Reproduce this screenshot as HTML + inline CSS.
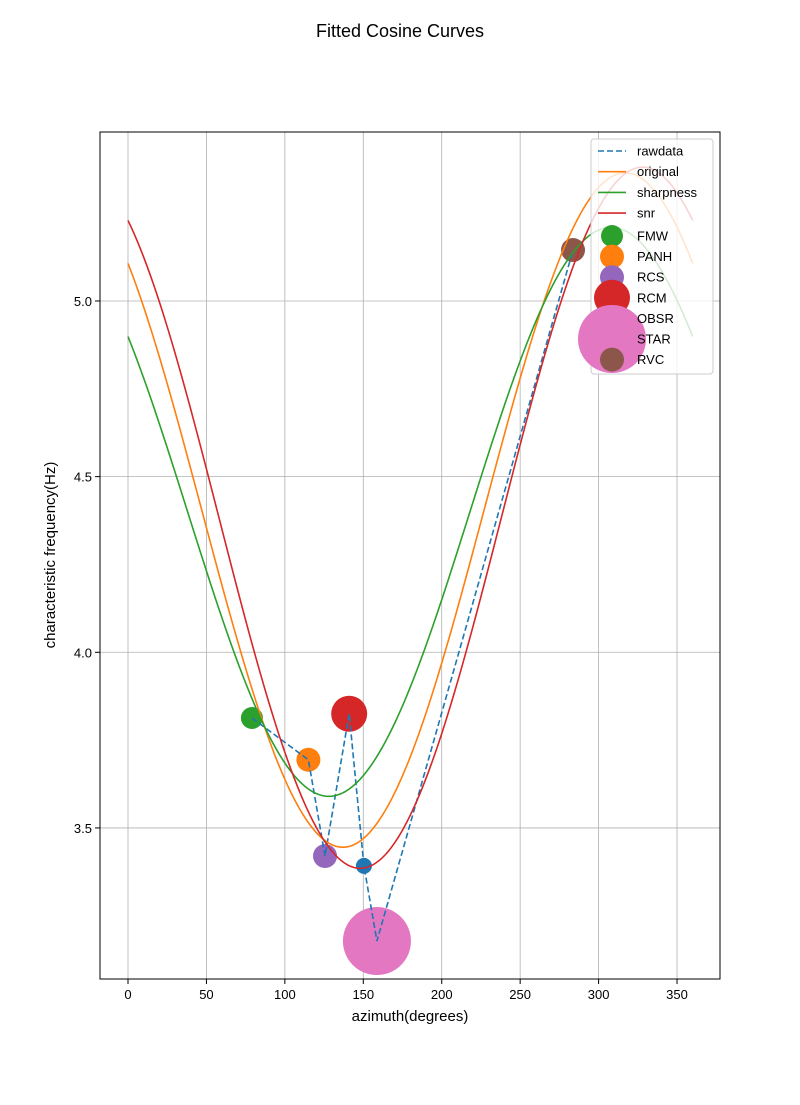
<!DOCTYPE html>
<html><head><meta charset="utf-8"><style>
body{margin:0;background:#fff;}
svg text{font-family:"Liberation Sans","DejaVu Sans",sans-serif;}
</style></head><body>
<svg id="chart" width="800" height="1100" xmlns="http://www.w3.org/2000/svg">
<rect width="800" height="1100" fill="#fff"/>
<text x="400" y="37" font-size="18" text-anchor="middle">Fitted Cosine Curves</text>
<g id="grid"></g>
<g id="marks"></g>
<rect x="100" y="132" width="620" height="847" fill="none" stroke="#000" stroke-width="1"/>
<g id="ticks"></g>
<text x="410" y="1021" font-size="15" text-anchor="middle">azimuth(degrees)</text>
<text x="0" y="0" font-size="15" text-anchor="middle" transform="translate(55,555) rotate(-90)">characteristic frequency(Hz)</text>
<g id="legend"></g>
</svg>
<script>
const xTicks=[0,50,100,150,200,250,300,350];
const yTicks=[3.5,4.0,4.5,5.0];
const yTickLabels=["3.5","4.0","4.5","5.0"];
const curveNames=["original","sharpness","snr"];
const curveColors=["#ff7f0e","#2ca02c","#d62728"];
const curveMean=[4.405,4.40,4.383];
const curveAmp=[0.96,0.81,0.998];
const curvePhase=[317,308,328];
const pointNames=["FMW","PANH","RCS","RCM","OBSR","STAR","RVC"];
const pointX=[79,115,125.6,141,150.4,158.7,283.7];
const pointY=[3.813,3.694,3.42,3.825,3.392,3.178,5.145];
const pointR=[11,12,12,18,8,34,12];
const pointColors=["#2ca02c","#ff7f0e","#9467bd","#d62728","#1f77b4","#e377c2","#8c564b"];

const NS="http://www.w3.org/2000/svg";
const X0=100,X1=720,Y0=132,Y1=979,xmin=-17.85,xmax=377.4,ymin=3.07,ymax=5.481;
const sx=v=>X0+(v-xmin)/(xmax-xmin)*(X1-X0);
const sy=v=>Y1-(v-ymin)/(ymax-ymin)*(Y1-Y0);
function mk(tag,attrs,parent){const e=document.createElementNS(NS,tag);for(const k in attrs)e.setAttribute(k,attrs[k]);parent.appendChild(e);return e;}
const grid=document.getElementById('grid'),ticks=document.getElementById('ticks'),marks=document.getElementById('marks'),leg=document.getElementById('legend');
xTicks.forEach(t=>{const x=sx(t);
 let g=mk('line',{x1:x,x2:x,y1:Y0,y2:Y1,stroke:'#b0b0b0','stroke-width':0.8},grid);
 let l=mk('line',{x1:x,x2:x,y1:Y1,y2:Y1+5,stroke:'#000'},ticks);
 let tx=mk('text',{x:x,y:Y1+20,'font-size':13,'text-anchor':'middle'},ticks);tx.textContent=t;});
yTicks.forEach((t,i)=>{const y=sy(t);
 let g=mk('line',{x1:X0,x2:X1,y1:y,y2:y,stroke:'#b0b0b0','stroke-width':0.8},grid);
 let l=mk('line',{x1:X0-5,x2:X0,y1:y,y2:y,stroke:'#000'},ticks);
 let tx=mk('text',{x:X0-8,y:y+5,'font-size':13,'text-anchor':'end'},ticks);tx.textContent=yTickLabels[i];});
pointNames.forEach((n,i)=>{let c=mk('circle',{cx:sx(pointX[i]),cy:sy(pointY[i]),r:pointR[i],fill:pointColors[i]},marks);});
let rd=mk('polyline',{points:pointX.map((x,i)=>sx(x)+','+sy(pointY[i])).join(' '),fill:'none',stroke:'#1f77b4','stroke-width':1.6,'stroke-dasharray':'6,3'},marks);

curveNames.forEach((n,i)=>{const pts=[];for(let d=0;d<=360;d+=2){const v=curveMean[i]+curveAmp[i]*Math.cos((d-curvePhase[i])*Math.PI/180);pts.push(sx(d)+','+sy(v));}
 let p=mk('polyline',{points:pts.join(' '),fill:'none',stroke:curveColors[i],'stroke-width':1.6},marks);});
let box=mk('rect',{x:591,y:139,width:122,height:235,rx:3,fill:'rgba(255,255,255,0.8)',stroke:'#ccc'},leg);
const legLines=[['rawdata','#1f77b4',true]].concat(curveNames.map((n,i)=>[n,curveColors[i],false]));
legLines.forEach((e,i)=>{const y=151+i*20.7;
 let l=mk('line',{x1:598,x2:626,y1:y,y2:y,stroke:e[1],'stroke-width':1.6},leg);if(e[2])l.setAttribute('stroke-dasharray','6,3');
 let t=mk('text',{x:637,y:y+4.5,'font-size':13},leg);t.textContent=e[0];});
pointNames.forEach((n,i)=>{const y=236+i*20.6;
 let c=mk('circle',{cx:612,cy:y,r:pointR[i],fill:pointColors[i]},leg);});
pointNames.forEach((n,i)=>{const y=236+i*20.6;
 let t=mk('text',{x:637,y:y+4.5,'font-size':13},leg);t.textContent=n;});
</script>
</body></html>
